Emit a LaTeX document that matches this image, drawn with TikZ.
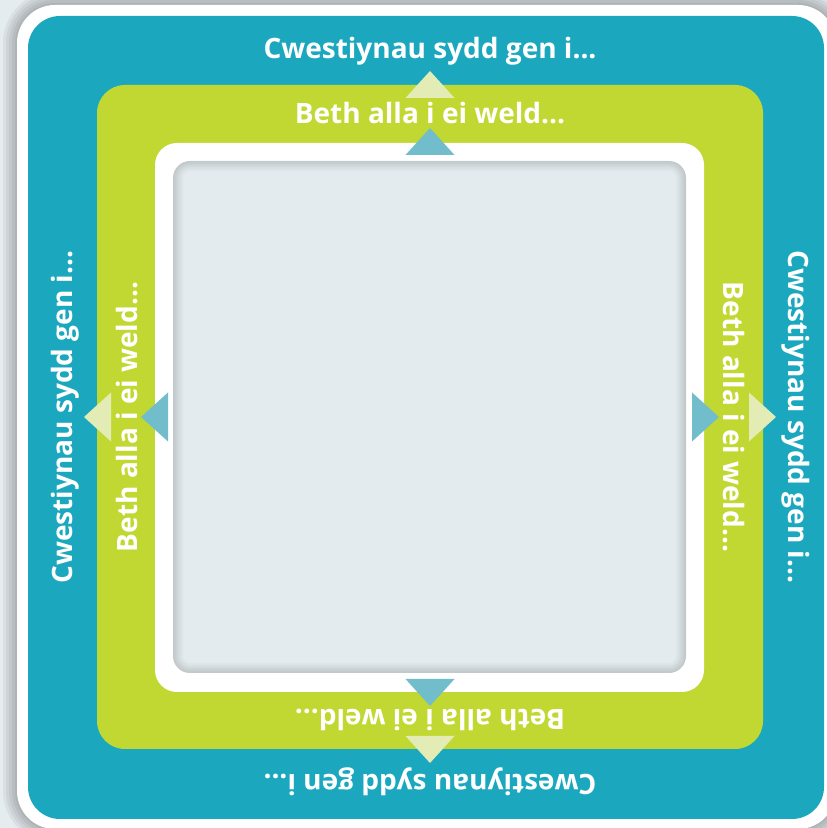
\documentclass[tikz,border=0pt]{standalone}
\usepackage{fontspec}
\setmainfont{Open Sans}
\definecolor{paper}{HTML}{E5ECEF}
\definecolor{frameblue}{HTML}{1BA8BF}
\definecolor{framegreen}{HTML}{C1D832}
\definecolor{tipgreen}{HTML}{E2ECB4}
\definecolor{tipblue}{HTML}{72BDCC}
\definecolor{panelgrey}{HTML}{E3EBEE}
\tikzset{
  boxtext/.style={text=white, inner sep=0pt, anchor=base,
    font=\fontsize{28}{32}\selectfont\bfseries},
}
\begin{document}
\begin{tikzpicture}[x=1pt,y=1pt]
    \useasboundingbox (0,0) rectangle (827,828);
    \clip (0,0) rectangle (827,828);
    \fill[paper] (0,0) rectangle (827,828);
    \foreach \w in {4,10,16,22,28}
        \draw[black, opacity=0.05, line width=\w pt, rounded corners=38pt] (17,-1) rectangle (836,823);
    \fill[white, rounded corners=38pt] (17,-1) rectangle (836,823);
    \fill[frameblue, rounded corners=32pt] (28,9) rectangle (824,812);
    \fill[framegreen, rounded corners=28pt] (97,79) rectangle (763,743);
    \fill[white, rounded corners=22pt] (155,136) rectangle (704,685);
    \begin{scope}
        \clip[rounded corners=17pt] (173,155) rectangle (686,667);
        \fill[panelgrey] (173,155) rectangle (686,667);
        \foreach \w in {3,6,9,12,16,20}
            \draw[black, opacity=0.025, line width=\w pt, rounded corners=17pt] (173,155) rectangle (686,667);
    \end{scope}
    \foreach \a in {0,90,180,270} {
        \begin{scope}[shift={(430,411)}, rotate=\a, transform shape]
            \fill[tipgreen] (-24.5,319) -- (0,346) -- (24.5,319) -- cycle;
            \fill[tipblue] (-24.5,262) -- (0,289) -- (24.5,262) -- cycle;
            \node[boxtext] (q\a) at (0,358) {Cwestiynau sydd gen i...};
            \node[boxtext] (b\a) at (0,293) {Beth alla i ei weld...};
        \end{scope}
    }
\end{tikzpicture}
\end{document}
